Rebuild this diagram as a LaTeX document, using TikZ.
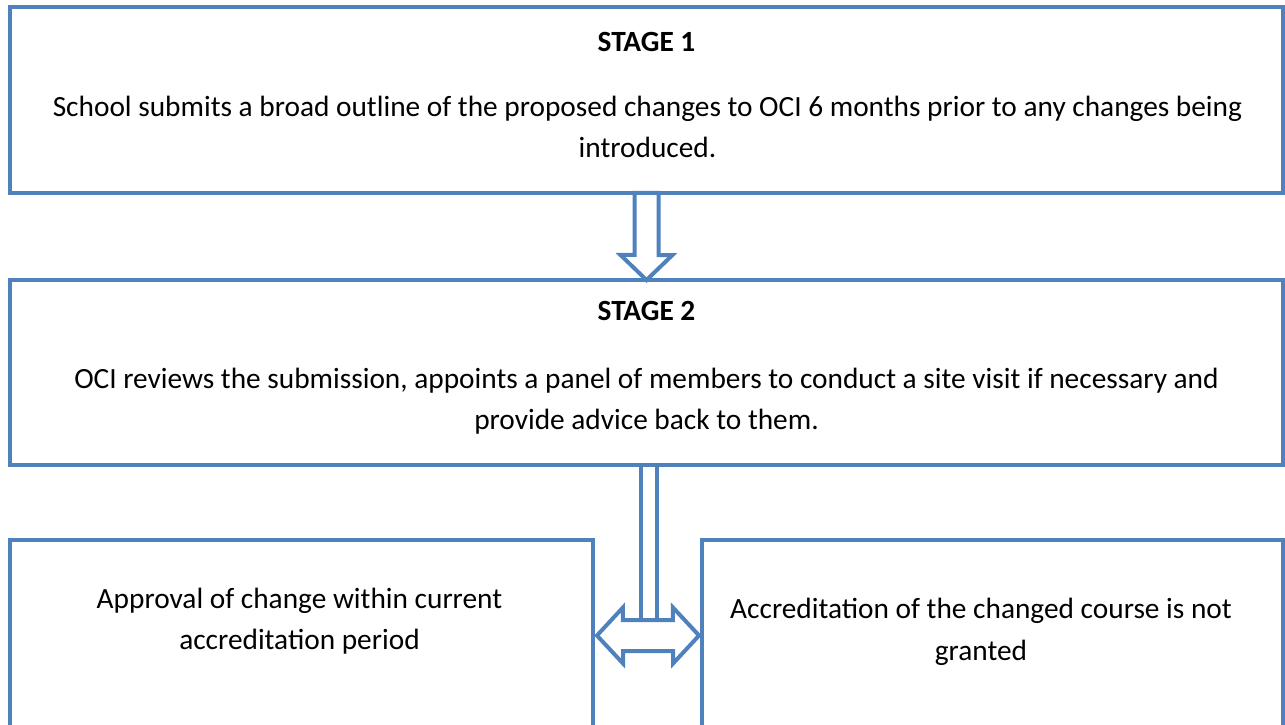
\documentclass[tikz,border=0pt]{standalone}
\usepackage{fontspec}
\setmainfont{Carlito}
\usetikzlibrary{calc}

\definecolor{boxblue}{RGB}{79,129,189}

\tikzset{
    stagebox/.style={draw=boxblue, line width=2.27pt, fill=white,
                     inner sep=0pt, outer sep=0pt},
    stagetext/.style={align=center, inner sep=0pt,
                      font=\fontsize{16.7}{23.6}\selectfont},
    stagehead/.style={stagetext, font=\fontsize{16.7}{23.6}\selectfont\bfseries},
    hollow/.style={draw=boxblue, line width=2.27pt, fill=white, line join=miter}
}

\begin{document}
\begin{tikzpicture}[x=0.02cm, y=-0.02cm]
    \useasboundingbox (0,0) rectangle (1285,724);
    \clip (0,0) rectangle (1285,724);

    % boxes
    \node[stagebox, minimum width=25.46cm, minimum height=3.72cm] (stage1) at (646.5,100) {};
    \node[stagebox, minimum width=25.46cm, minimum height=3.70cm] (stage2) at (646.5,372.5) {};
    \node[stagebox, minimum width=11.66cm, minimum height=3.82cm] (leftbox) at (301.5,635.5) {};
    \node[stagebox, minimum width=11.62cm, minimum height=3.82cm] (rightbox) at (992.5,635.5) {};

    % texts
    \node[stagehead, anchor=base] (s1head) at (646.5,51) {STAGE 1};
    \node[stagetext] (s1text) at (647.5,127) {School submits a broad outline of the proposed changes to OCI 6 months prior to any changes being\\introduced.};
    \node[stagehead, anchor=base] (s2head) at (646.5,320.5) {STAGE 2};
    \node[stagetext] (s2text) at (646.5,401) {OCI reviews the submission, appoints a panel of members to conduct a site visit if necessary and\\provide advice back to them.};
    \node[stagetext] (lefttext) at (299.5,621) {Approval of change within current\\accreditation period};
    \node[stagetext] (righttext) at (981,632) {Accreditation of the changed course is not\\granted};

    % down arrow
    \filldraw[hollow] ($(stage1.south)+(-12,0)$) -- ++(0,62) -- ++(-14,0) -- (stage2.north)
        -- ++(26,-25) -- ++(-14,0) -- ($(stage1.south)+(12,0)$) -- cycle;

    % shaft and double arrow
    \coordinate (dmid) at ($(leftbox.east)!0.5!(rightbox.west)$);
    \filldraw[hollow] ($(stage2.south -| dmid)+(-7,0)$) rectangle ($(dmid)+(9,-15.5)$);
    \filldraw[hollow] ($(leftbox.east)+(4,0)$) -- ++(26,-28) -- ++(0,12.5) -- ++(50,0) -- ++(0,-12.5)
        -- ($(rightbox.west)+(-3,0)$) -- ++(-26,28) -- ++(0,-12.5) -- ++(-50,0) -- ++(0,12.5) -- cycle;
\end{tikzpicture}
\end{document}
